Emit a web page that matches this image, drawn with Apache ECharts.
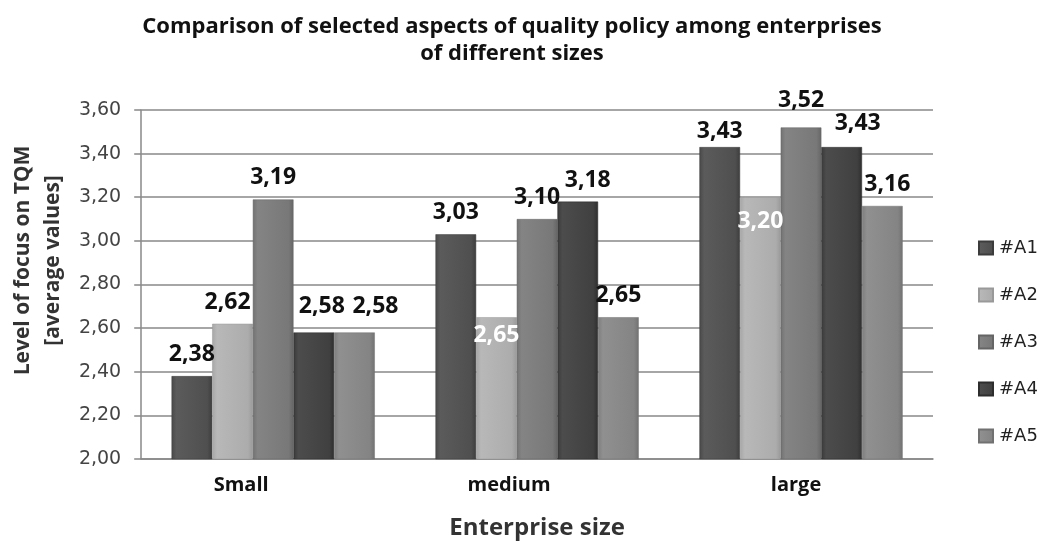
<!DOCTYPE html>
<html><head><meta charset="utf-8">
<script src="https://cdn.jsdelivr.net/npm/echarts@6/dist/echarts.min.js"></script>
<style>html,body{margin:0;padding:0;background:#fff}#c{width:1038px;height:545px}</style>
</head><body><div id="c"></div>
<script>
const categories = ['Small', 'medium', 'large'];
const seriesNames = ['#A1', '#A2', '#A3', '#A4', '#A5'];
const A1 = [2.38, 3.03, 3.43];
const A2 = [2.62, 2.65, 3.20];
const A3 = [3.19, 3.10, 3.52];
const A4 = [2.58, 3.18, 3.43];
const A5 = [2.58, 2.65, 3.16];
const yTicks = ['2,00','2,20','2,40','2,60','2,80','3,00','3,20','3,40','3,60'];

// label nudges (px) mimicking the original's collision avoidance: [series][category] = [dx, dy]
const labelNudge = [
  [[0, 0], [0, 0], [0, 6]],
  [[-5, 0], [0, 0], [0, 0]],
  [[0, 0], [0, 0], [0, -5]],
  [[8, -5], [10, 0], [16, -2]],
  [[21, -5], [0, 0], [5, 0]]
];

const values = [A1, A2, A3, A4, A5];
const baseColors = ['#555555', '#b2b2b2', '#7e7e7e', '#464646', '#8a8a8a'];
function shade(hex, amt) {
  const n = parseInt(hex.slice(1), 16);
  let r = (n >> 16) + amt, g = ((n >> 8) & 255) + amt, b = (n & 255) + amt;
  r = Math.max(0, Math.min(255, r)); g = Math.max(0, Math.min(255, g)); b = Math.max(0, Math.min(255, b));
  return 'rgb(' + r + ',' + g + ',' + b + ')';
}
function grad(c) {
  return new echarts.graphic.LinearGradient(0, 0, 1, 0, [
    {offset: 0, color: shade(c, -12)},
    {offset: 0.12, color: shade(c, 6)},
    {offset: 0.5, color: c},
    {offset: 0.88, color: shade(c, -6)},
    {offset: 1, color: shade(c, -24)}
  ]);
}
const fmt = p => p.value.toFixed(2).replace('.', ',');
const insideDist = [0, 7, 13];
const series = values.map((arr, si) => ({
  name: seriesNames[si],
  type: 'bar',
  barGap: '0%',
  barCategoryGap: '23%',
  itemStyle: {color: grad(baseColors[si]), borderColor: shade(baseColors[si], -25), borderWidth: 0.5},
  label: {show: true, position: 'top', distance: 10, formatter: fmt,
    color: '#111', fontWeight: 'bold', fontSize: 23, fontFamily: 'Open Sans'},
  data: arr.map((v, ci) => {
    if (si === 1 && ci > 0) {
      return {value: v, label: {position: 'insideTop', distance: insideDist[ci], color: '#fff'}};
    }
    return {value: v, label: {offset: labelNudge[si][ci]}};
  })
}));

const catRich = {};
[64, 56, 10].forEach((p, i) => {
  catRich['c' + i] = {fontFamily: 'Open Sans', fontWeight: 'bold', fontSize: 20, color: '#111', padding: [0, p, 0, 0]};
});

const chart = echarts.init(document.getElementById('c'));
chart.setOption({
  animation: false,
  backgroundColor: '#fff',
  title: {
    text: 'Comparison of selected aspects of quality policy among enterprises\nof different sizes',
    left: 507, top: 8, textAlign: 'center',
    textStyle: {fontFamily: 'Open Sans', fontWeight: 'bold', fontSize: 22, lineHeight: 27, color: '#111'}
  },
  legend: {
    orient: 'vertical', left: 973, top: 233, itemGap: 27,
    itemWidth: 14, itemHeight: 13, icon: 'rect',
    textStyle: {fontFamily: 'DejaVu Sans', fontSize: 18, lineHeight: 20, color: '#222', padding: [0, 0, 0, 1]},
    data: seriesNames
  },
  grid: {left: 140, right: 105, top: 110, bottom: 83},
  xAxis: {
    type: 'category', data: categories,
    name: 'Enterprise size', nameLocation: 'middle', nameGap: 57,
    nameTextStyle: {fontFamily: 'Open Sans', fontWeight: 'bold', fontSize: 24, color: '#333'},
    axisLine: {lineStyle: {color: '#888', width: 1.5}},
    axisTick: {show: false},
    axisLabel: {margin: 16, formatter: (v, i) => '{c' + i + '|' + v + '}', rich: catRich}
  },
  yAxis: {
    type: 'value', min: 2.0, max: 3.6, interval: 0.2,
    name: 'Level of focus on TQM\n[average values]', nameLocation: 'middle', nameGap: 73,
    nameTextStyle: {fontFamily: 'Open Sans', fontWeight: 'bold', fontSize: 21, lineHeight: 30, color: '#333', padding: [0, 0, 0, 48]},
    axisLine: {show: true, lineStyle: {color: '#888', width: 1.5}},
    axisTick: {show: true, length: 7, lineStyle: {color: '#888', width: 1.5}},
    splitLine: {lineStyle: {color: '#888', width: 1.5}},
    axisLabel: {fontFamily: 'DejaVu Sans', fontSize: 19, color: '#444', margin: 20,
      formatter: v => yTicks[Math.round((v - 2) / 0.2)]}
  },
  series: series
});
</script></body></html>
